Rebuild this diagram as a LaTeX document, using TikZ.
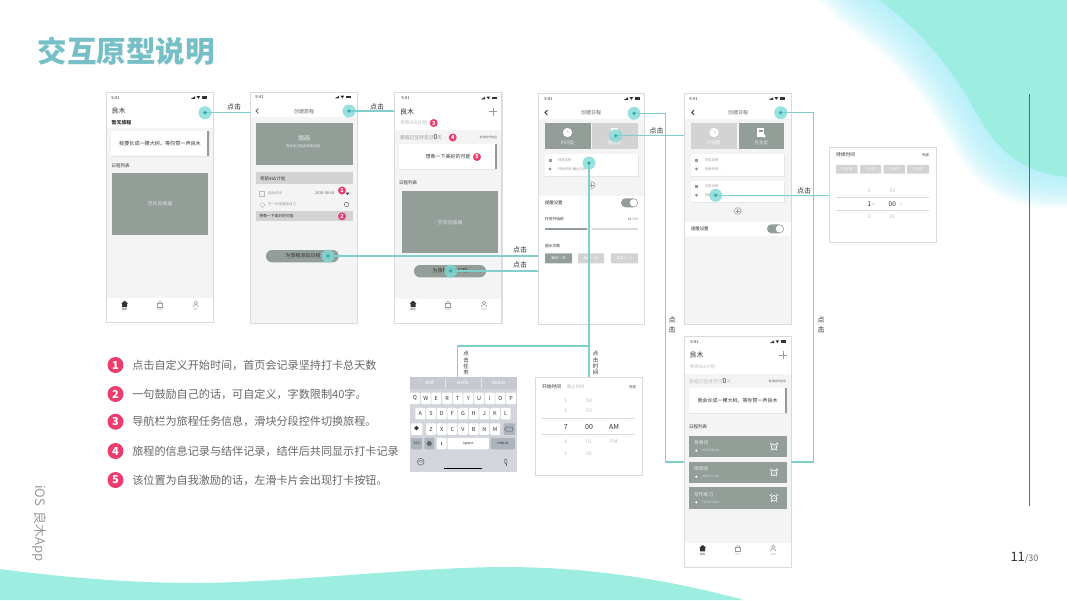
\documentclass[tikz,border=0pt]{standalone}
\usepackage{fontspec}
\setmainfont{Noto Sans CJK SC}
\definecolor{blob}{HTML}{9DEEE0}
\definecolor{glow}{HTML}{A8ECF8}
\definecolor{conn}{HTML}{7FD0CC}
\definecolor{hotc}{HTML}{7FDAD6}
\definecolor{hotd}{HTML}{35ABA8}
\definecolor{imgc}{HTML}{939E99}
\definecolor{lite}{HTML}{D3D3D3}
\definecolor{body}{HTML}{F4F4F4}
\definecolor{edgec}{HTML}{DADADA}
\definecolor{ink}{HTML}{333333}
\definecolor{mid}{HTML}{666666}
\definecolor{soft}{HTML}{999999}
\definecolor{pale}{HTML}{BBBBBB}
\definecolor{pinkc}{HTML}{EC3D6E}
\definecolor{titlec}{HTML}{77BFC6}
\definecolor{kbbg}{HTML}{D2D5DB}
\definecolor{kbsg}{HTML}{C6C9CF}
\definecolor{kbdk}{HTML}{ACB3BD}
\newcounter{lblc}
\tikzset{
  lab/.style={inner sep=0pt,outer sep=0pt},
  screenbox/.style={draw=edgec,line width=0.8pt,fill=white,inner sep=0pt,outer sep=0pt},
  hotspot/.style={circle,fill=hotc,fill opacity=.8,minimum size=13pt,inner sep=0pt,outer sep=0pt},
  link/.style={draw=conn,line width=1.2pt},
  key/.style={fill=white,rounded corners=1pt,minimum width=9.7pt,minimum height=11.5pt,inner sep=0pt,outer sep=0pt,text=ink,font=\fontsize{5.5}{5.5}\selectfont},
  keydk/.style={key,fill=kbdk},
  pill/.style={inner sep=0pt,outer sep=0pt,rounded corners=.7pt,text=white,font=\fontsize{3.6}{3.6}\selectfont},
  bdgnode/.style={circle,fill=pinkc,text=white,inner sep=0pt,outer sep=0pt,font=\bfseries\fontsize{5.5}{5.5}\selectfont,minimum size=8pt},
  listbdg/.style={bdgnode,minimum size=16pt,font=\bfseries\fontsize{11}{11}\selectfont},
}
\newcommand\lbl[6][center]{\stepcounter{lblc}\node[lab,anchor=#1,text=#5,font=\fontsize{#4}{#4}\selectfont] (t\thelblc) at (#2,#3) {#6};}
\newcommand\scr[5]{\fill[black!12] (#2+.8,#3+.8) rectangle (#4+.8,#5+.8);
  \node[screenbox,minimum width={(#4-#2)*1pt},minimum height={(#5-#3)*1pt}] (#1) at ({(#2+#4)/2},{(#3+#5)/2}) {};}
\newcommand\stbar[2]{\lbl[center]{#1-91.5}{#2}{4.2}{ink}{9:41}
  \fill[ink] (#1-5.5,#2-1.3) rectangle (#1,#2+1.3);
  \fill[ink] (#1-10.5,#2-1.3) -- (#1-6.8,#2-1.3) -- (#1-8.6,#2+1.4) -- cycle;
  \fill[ink] (#1-16,#2+1.3) -- (#1-11.8,#2+1.3) -- (#1-11.8,#2-1.3) -- cycle;}
\newcommand\tabs[4]{%
  \fill[ink] (#1-3.3,#4-.5) -- (#1,#4-3.4) -- (#1+3.3,#4-.5) -- (#1+2.5,#4-.5) -- (#1+2.5,#4+3) -- (#1-2.5,#4+3) -- (#1-2.5,#4-.5) -- cycle;
  \draw[soft,line width=.5pt] (#2-2.5,#4-.8) rectangle (#2+2.5,#4+3);
  \draw[soft,line width=.5pt] (#2-1.6,#4-.8) arc[start angle=180,end angle=360,x radius=1.6,y radius=2];
  \draw[soft,line width=.5pt] (#3,#4-1.3) circle (1.8);
  \draw[soft,line width=.5pt] (#3-2.8,#4+3) arc[start angle=180,end angle=360,x radius=2.8,y radius=2.6];
  \lbl{#1}{#4+6}{2.6}{ink}{首页}\lbl{#2}{#4+6}{2.6}{pale}{结伴}\lbl{#3}{#4+6}{2.6}{pale}{我的}}
\newcommand\bdg[4]{\node[bdgnode] (#1) at (#2,#3) {#4};}
\newcommand\back[3]{\draw[#3,line width=.8pt] (#1+1.4,#2-2.4) -- (#1-1,#2) -- (#1+1.4,#2+2.4);}
\newcommand\plusc[2]{\draw[soft,line width=.5pt,fill=body] (#1,#2) circle (3.4);\draw[soft,line width=.5pt] (#1-2,#2) -- (#1+2,#2) (#1,#2-2) -- (#1,#2+2);}
\newcommand\tog[2]{\fill[imgc,rounded corners=4.5pt] (#1,#2) rectangle (#1+17,#2+9);\fill[white] (#1+12.5,#2+4.5) circle (3.7);}
\newcommand\clockic[3]{\fill[#3] (#1,#2) circle (4.6);\draw[white!70!imgc,line width=.5pt] (#1,#2-2.8) -- (#1,#2) -- (#1+2,#2);}
\newcommand\card[4]{\fill[black!10] (#1,#2+.8) rectangle (#3+.5,#4+.8);\fill[white] (#1,#2) rectangle (#3,#4);}
\newcommand\strip[3]{\fill[soft] (#1-1.8,#2) rectangle (#1,#3);}
\newcommand\alarm[2]{\draw[white,line width=.7pt] (#1,#2) circle (2.8);\draw[white,line width=.8pt] (#1-4,#2-2.4) -- (#1-2.4,#2-4) (#1+4,#2-2.4) -- (#1+2.4,#2-4) (#1-3,#2+3.4) -- (#1-2,#2+2.4) (#1+3,#2+3.4) -- (#1+2,#2+2.4);\draw[white,line width=.4pt] (#1,#2-1.6) -- (#1,#2) -- (#1+1.2,#2+.6);}
\newcommand\task[5]{\fill[imgc] (689,#1) rectangle (786.7,#2);
  \lbl[west]{694}{#1+7}{4.8}{white!75!imgc}{#3}
  \fill[white] (696.3,#1+15) circle (1.2);
  \lbl[west]{702}{#1+15}{3.2}{white!70!imgc}{#4}
  \alarm{774}{#1+11}}
\begin{document}
\begin{tikzpicture}[x=1pt,y=-1pt]
\useasboundingbox (0,0) rectangle (1067,600);
\begin{scope}
\clip (0,0) rectangle (1067,600);
\foreach \i in {1,...,30}{
  \fill[glow,fill opacity=.05,shift={({-\i*.85},{\i*1.05})}] (820,-60) .. controls (845,-30) and (860,-12) .. (878,0) .. controls (915,25) and (945,60) .. (969,100) .. controls (985,128) and (1005,172) .. (1067,177) -- (1200,177) -- (1200,-100) -- (820,-100) -- cycle;
}
\fill[blob] (878,0) .. controls (915,25) and (945,60) .. (969,100) .. controls (985,128) and (1005,172) .. (1067,177) -- (1067,0) -- cycle;
\fill[blob] (0,569) .. controls (70,578) and (130,583) .. (200,583) .. controls (290,582) and (420,567) .. (505,567) .. controls (590,567) and (670,580) .. (744,600) -- (0,600) -- cycle;
\end{scope}
\draw[mid,line width=.9pt] (1029.5,94) -- (1029.5,506);
\node[lab,anchor=west,text=titlec,font=\bfseries\fontsize{29.5}{29.5}\selectfont] (title) at (37.5,51) {交互原型说明};
\node[lab,anchor=west,rotate=-90,text=soft,font=\fontsize{13}{13}\selectfont] (side) at (40,485) {iOS\ \ 良木App};
\node[lab,anchor=base west,text=ink,font=\fontsize{13}{13}\selectfont] (pagenum) at (1010.5,561) {11\textcolor{mid}{\fontsize{9}{9}\selectfont/30}};

% ---------- screen 1
\scr{s1}{106.7}{92.5}{213}{322}
\stbar{207}{97.5}
\lbl[west]{111.7}{111}{7}{ink}{良木}
\lbl[west]{111.7}{123}{4.9}{ink}{\bfseries 暂无旅程}
\fill[body] (107.2,128) rectangle (212.6,298);
\card{111}{131}{209}{155.7}\strip{209}{131}{155.7}
\lbl{160}{143.5}{5.1}{ink}{我要长成一棵大树。等你赞一声良木}
\lbl[west]{111.7}{165.3}{4.5}{ink}{日程列表}
\fill[imgc] (111.5,172.7) rectangle (208.3,235.3);
\lbl{160}{204}{5}{white!70!imgc}{空状态插画}
\tabs{124.7}{160}{195.7}{304}

% ---------- screen 2
\scr{s2}{250.7}{92.5}{357}{323}
\stbar{351}{97}
\fill[body] (251.2,117.3) rectangle (356.6,322.6);
\back{257}{111}{mid}
\lbl{304}{111.5}{5}{mid}{创建旅程}
\fill[imgc] (256,122.7) rectangle (352.7,165);
\lbl{304}{138.5}{6}{white!80!imgc}{插画}
\lbl{304}{146.5}{3.4}{white!80!imgc}{有伙伴才能走得更远哦\textasciitilde}
\fill[lite] (255.5,172.3) rectangle (352.5,184.3);
\lbl[west]{260}{178.5}{4.5}{ink}{考研365计划}
\draw[pale,line width=.5pt] (259.5,191) rectangle (264.5,196);
\lbl[west]{268}{193.5}{3.5}{soft}{起始时间}
\lbl[west]{315}{193.5}{3.8}{mid}{2018-08-04}
\fill[ink] (345.5,192.5) -- (349.5,192.5) -- (347.5,195) -- cycle;
\draw[pale,line width=.5pt] (260,203) -- (263,203) -- (265,205) -- (262.5,207.5) -- (260,205) -- cycle;
\lbl[west]{268}{204.5}{3.5}{soft}{写一句话鼓励自己}
\draw[mid,line width=.5pt] (346.5,204.5) circle (2.2);
\fill[lite] (255.5,211) rectangle (352.5,221);
\lbl[west]{259.5}{216.3}{3.8}{ink}{想像一下美好的可能}
\fill[imgc,rounded corners=6pt] (266,250) rectangle (338.7,262.3);
\lbl{303}{256}{5}{ink}{为旅程添加日程}
\bdg{b1}{342}{190.5}{1}
\bdg{b2}{342}{216.3}{2}

% ---------- screen 3
\scr{s3}{394.3}{92.3}{501.7}{323}
\stbar{497}{98}
\lbl[west]{400}{111.5}{7}{ink}{良木}
\draw[soft,line width=.7pt] (489,111.5) -- (497,111.5) (493,107.5) -- (493,115.5);
\lbl[west]{400}{123}{4.8}{pale}{考研365计划}
\fill[body] (394.8,130) rectangle (501.3,299);
\lbl[west]{400}{137.5}{4.8}{soft}{旅程已坚持走过\textcolor{ink}{\fontsize{7}{7}\selectfont 0}天}
\lbl[east]{497}{137.5}{2.9}{mid}{查找结伴信息}
\card{399.3}{144.3}{496.7}{169.3}\strip{496.7}{144.3}{169.3}
\lbl{448}{157}{5}{ink}{想象一下美好的可能}
\lbl[west]{399}{183}{4.5}{ink}{日程列表}
\fill[imgc] (401.7,191) rectangle (498.3,253.3);
\lbl{450}{222.5}{5}{white!70!imgc}{空状态插画}
\fill[imgc,rounded corners=6pt] (414,265) rectangle (486,277.3);
\lbl{450}{271}{5}{ink}{为旅程添加日程}
\tabs{413}{448}{484}{304}
\bdg{b3}{433.7}{123}{3}
\bdg{b4}{452.7}{137.5}{4}
\bdg{b5}{477}{157}{5}

% ---------- screen 4
\scr{s4}{538}{93.3}{644}{324}
\stbar{640}{98.5}
\fill[body] (538.5,119) rectangle (643.6,195.7);
\back{546}{112.5}{ink}
\lbl{591}{112.5}{5}{mid}{创建日程}
\fill[imgc] (545,123.3) rectangle (590.7,149);
\clockic{567.5}{132.5}{white}
\lbl{567.5}{142.5}{4.4}{white!75!imgc}{时间型}
\fill[lite] (592.3,123.3) rectangle (637.7,149);
\fill[white] (611,128) rectangle (618,137);
\lbl{614.5}{143}{4.4}{white}{任务型}
\card{545}{154}{638}{176}
\fill[soft] (548.5,158.5) rectangle (551.5,161.5);
\fill[soft] (550,169) circle (1.6);
\lbl[west]{558}{160}{3.4}{soft}{任务名称}
\lbl[west]{558}{169}{3.4}{soft}{开始时间-截止时间}
\plusc{591.7}{185}
\lbl[west]{545}{203}{4.4}{ink}{提醒设置}
\tog{621}{198.3}
\lbl[west]{545}{219}{3.8}{ink}{任务开始前}
\lbl[east]{638}{219}{3}{soft}{\textcolor{ink}{15} 分钟}
\fill[imgc] (545,228) rectangle (587,230);
\fill[edgec] (592,228) rectangle (638,230);
\fill[white,draw=edgec,line width=.3pt] (590,229) circle (2.6);
\lbl[west]{545}{246}{3.8}{ink}{提示次数}
\node[pill,fill=imgc,minimum width=27pt,minimum height=10pt] (p1) at (558.5,258.3) {每日一次};
\node[pill,fill=lite,minimum width=26pt,minimum height=10pt] (p2) at (591,258.3) {每周一次};
\node[pill,fill=lite,minimum width=27pt,minimum height=10pt] (p3) at (624.5,258.3) {自定义 \,∨};

% ---------- screen 5
\scr{s5}{684}{93.6}{791}{324}
\stbar{785}{98.5}
\fill[body] (684.5,119) rectangle (790.6,222);
\fill[body] (684.5,235.7) rectangle (790.6,323.6);
\back{692.7}{112.5}{ink}
\lbl{738}{112.5}{5}{mid}{创建日程}
\fill[lite] (691.3,123.3) rectangle (736.7,149);
\clockic{714}{132.5}{white}
\lbl{714}{142.5}{4.4}{white}{时间型}
\fill[imgc] (738.7,123.3) rectangle (784,149);
\fill[white] (757,128) rectangle (764,137);
\fill[imgc] (758.5,130) rectangle (762.5,131.5);
\fill[white] (764,136) circle (1.8);
\lbl{761.5}{142.5}{4.4}{white!75!imgc}{任务型}
\card{691.3}{154}{784}{176}
\fill[soft] (695,158.5) rectangle (698,161.5);
\fill[soft] (696.5,169) circle (1.6);
\lbl[west]{705}{160}{3.4}{soft}{任务名称}
\lbl[west]{705}{169}{3.4}{soft}{持续时间\ \ -}
\card{691.3}{180.7}{784}{202.3}
\fill[soft] (695,185) rectangle (698,188);
\fill[soft] (696.5,195.3) circle (1.6);
\lbl[west]{705}{186.5}{3.4}{soft}{任务名称}
\lbl[west]{705}{195.5}{3.4}{soft}{持续时间\ \ -}
\plusc{737.7}{211}
\lbl[west]{691}{229}{4.4}{ink}{提醒设置}
\tog{767}{224.3}

% ---------- duration popup
\scr{dur}{829}{147.3}{936}{242}
\lbl[west]{836}{154.3}{4.8}{ink}{持续时间}
\lbl[east]{929}{155}{3.4}{ink}{完成}
\node[pill,fill=lite,minimum width=21.5pt,minimum height=8.7pt] (d1) at (846.8,169.3) {30分钟};
\node[pill,fill=lite,minimum width=21pt,minimum height=8.7pt] (d2) at (870.5,169.3) {1小时};
\node[pill,fill=lite,minimum width=21.5pt,minimum height=8.7pt] (d3) at (894.3,169.3) {2小时};
\node[pill,fill=lite,minimum width=22pt,minimum height=8.7pt] (d4) at (918,169.3) {5小时};
\draw[edgec,line width=.6pt] (836,197.3) -- (929,197.3) (836,210.3) -- (929,210.3);
\lbl{869.3}{190.7}{5}{pale}{0}\lbl{892.3}{190.7}{5}{pale}{59}
\lbl{869.3}{203.7}{6.5}{ink}{1}\lbl{873.5}{204}{2.8}{pale}{时}
\lbl{892.3}{203.7}{6.5}{ink}{00}\lbl{901}{204}{2.8}{pale}{分}
\lbl{869.3}{216.7}{5}{pale}{2}\lbl{892.3}{216.7}{5}{pale}{01}

% ---------- keyboard
\node[lab,fill=kbbg,minimum width=106.7pt,minimum height=95pt] (kb) at (463.35,424.5) {};
\fill[kbsg] (410,377) rectangle (516.7,389);
\draw[white!60!kbsg,line width=.3pt] (445.5,378) -- (445.5,388) (481.5,378) -- (481.5,388);
\lbl{429}{382.5}{4.8}{white}{"Hell"}\lbl{463}{382.5}{4.8}{white}{Hello}\lbl{498.7}{382.5}{4.8}{white}{Helios}
\foreach \c/\x in {Q/45,W/77,E/109,R/141,T/173,Y/205,U/237,I/269,O/301,P/333}{\node[key] (k\c) at ({400+\x/3},398.3) {\c};}
\foreach \c/\x in {A/61,S/93,D/125,F/157,G/189,H/221,J/253,K/285,L/317}{\node[key] (k\c) at ({400+\x/3},413.6) {\c};}
\foreach \c/\x in {Z/93,X/125,C/157,V/189,B/221,N/253,M/285}{\node[key] (k\c) at ({400+\x/3},429) {\c};}
\node[key,minimum width=11.5pt] (kshift) at (416.7,429) {\fontsize{5}{5}\selectfont ◆};
\node[keydk,minimum width=11.5pt] (kdel) at (509.3,429) {};
\draw[mid,line width=.5pt] (506.3,427) -- (512.3,427) -- (512.3,431) -- (506.3,431) -- (504.6,429) -- cycle;
\node[keydk,minimum width=11pt,font=\fontsize{3.8}{3.8}\selectfont] (k123) at (416.7,443.5) {123};
\node[keydk,minimum width=10pt] (kglobe) at (429.3,443.5) {};
\fill[mid] (kglobe.center) circle (2.5);
\node[key,minimum width=10pt] (kmic) at (441.7,443.5) {};
\fill[mid] (441.1,441.5) rectangle (442.3,445);
\node[key,minimum width=41.3pt,font=\fontsize{3.8}{3.8}\selectfont] (kspace) at (468.3,443.5) {space};
\node[keydk,minimum width=24.3pt,font=\fontsize{3.8}{3.8}\selectfont] (kret) at (502.8,443.5) {return};
\draw[mid,line width=.5pt] (420.7,461.7) circle (3.4);
\draw[mid,line width=.5pt] (418.7,462.5) arc[start angle=180,end angle=360,radius=2];
\draw[mid,line width=.5pt,rounded corners=1pt] (504.5,459) rectangle (506.9,463.5);
\draw[mid,line width=.4pt] (505.7,463.5) -- (505.7,465.5);
\fill[black] (444.3,468) rectangle (482.3,469.3);

% ---------- time popup
\scr{tim}{535.7}{377}{642}{475}
\lbl[west]{542}{386.7}{4.8}{ink}{开始时间}
\lbl[west]{567}{386.7}{4.4}{pale}{截止时间}
\lbl[east]{636}{387}{3.4}{ink}{完成}
\draw[edgec,line width=.6pt] (542,418.3) -- (635,418.3) (542,434.3) -- (635,434.3);
\lbl{565.7}{401}{5}{pale}{5}\lbl{589}{401}{5}{pale}{58}
\lbl{565.7}{411}{5}{pale}{6}\lbl{589}{411}{5}{pale}{59}
\lbl{565.7}{426.7}{7}{ink}{7}\lbl{589}{426.7}{7}{ink}{00}\lbl{614}{426.7}{7}{ink}{AM}
\lbl{565.7}{442}{5}{pale}{8}\lbl{589}{442}{5}{pale}{01}\lbl{614}{442}{5}{pale}{PM}
\lbl{565.7}{454}{5}{pale}{9}\lbl{589}{454}{5}{pale}{02}

% ---------- screen 6
\scr{s6}{684}{336}{791}{567}
\stbar{786}{341.7}
\lbl[west]{689.7}{355}{7}{ink}{良木}
\draw[soft,line width=.7pt] (779,355) -- (787,355) (783,351) -- (783,359);
\lbl[west]{689.7}{367}{4.5}{pale}{考研365计划}
\fill[body] (684.5,374) rectangle (790.6,542.7);
\lbl[west]{689}{381}{4.8}{pale}{旅程已坚持走过\textcolor{ink}{\fontsize{7}{7}\selectfont 0}天}
\lbl[east]{786}{381}{2.9}{mid}{查找结伴信息}
\card{689}{388.3}{786.7}{412.7}\strip{786.7}{388.3}{412.7}
\lbl{737.5}{400.5}{5}{ink}{我会长成一棵大树。等你赞一声良木}
\lbl[west]{689}{426.7}{4.5}{ink}{日程列表}
\task{435.7}{456.7}{背单词}{07:00-08:00}{}
\task{461.7}{482.7}{微阅读}{09:00-11:00}{}
\task{487.3}{508.7}{写作练习}{13:00-16:00}{}
\tabs{702.7}{738}{773.3}{548.3}

% ---------- hotspots
\node[hotspot] (h1) at (205,112.7) {};
\node[hotspot] (h2) at (349,111) {};
\node[hotspot] (h3) at (328,256) {};
\node[hotspot] (h4) at (450.7,271) {};
\node[hotspot] (h5) at (634,113.3) {};
\node[hotspot] (h6) at (615.7,135.7) {};
\node[hotspot] (h7) at (589,163) {};
\node[hotspot] (h8) at (780.7,112.7) {};
\node[hotspot] (h9) at (715.7,195.3) {};

% ---------- connector bends
\coordinate (bus) at (457.7,346);
\coordinate (ll) at (665.7,462);
\coordinate (lt) at (665.7,113.3);
\coordinate (rl) at (813.3,462);
\coordinate (rt) at (813.3,112.7);

% ---------- connectors
\path[link] (h1.center) -- (h1.center -| s2.west);
\path[link] (h2.center) -- (h2.center -| s3.west);
\path[link] (h3.center) -- (h3.center -| s4.west);
\path[link] (h4.center) -- (h4.center -| s4.west);
\path[link] (h5.center) -- (lt) -- (ll) -- (ll -| s6.west);
\path[link] (h6.center) -- (h6.center -| s5.west);
\path[link] (h7.center) -- (h7.center |- tim.north);
\path[link] (h7.center |- bus) -- (bus) -- (bus |- kb.north);
\path[link] (h8.center) -- (rt) -- (rl) -- (rl -| s6.east);
\path[link] (h9.center) -- (h9.center -| dur.west);
\foreach \h in {h1,h2,h3,h4,h5,h6,h7,h8,h9}{\fill[hotd] (\h.center) circle (1.8);}

% ---------- connector labels
\lbl{234}{107}{7}{ink}{点击}
\lbl{377}{106.5}{7}{ink}{点击}
\lbl{520}{250}{7}{ink}{点击}
\lbl{520}{265}{7}{ink}{点击}
\lbl{656.5}{131}{7}{ink}{点击}
\lbl{804}{191}{7}{ink}{点击}
\lbl{672}{320}{7}{ink}{点}\lbl{672}{329.5}{7}{ink}{击}
\lbl{821}{320}{7}{ink}{点}\lbl{821}{329.5}{7}{ink}{击}
\lbl{466}{353.5}{5.5}{ink}{点}\lbl{466}{360}{5.5}{ink}{击}\lbl{466}{366.3}{5.5}{ink}{任}\lbl{466}{372.5}{5.5}{ink}{务}
\lbl{595.7}{353.5}{5.5}{ink}{点}\lbl{595.7}{360}{5.5}{ink}{击}\lbl{595.7}{366.3}{5.5}{ink}{时}\lbl{595.7}{372.5}{5.5}{ink}{间}

% ---------- numbered list
\node[listbdg] (n1) at (115.5,365) {1};
\node[listbdg] (n2) at (115.5,394) {2};
\node[listbdg] (n3) at (115.5,421.7) {3};
\node[listbdg] (n4) at (115.5,451) {4};
\node[listbdg] (n5) at (115.5,480) {5};
\lbl[west]{132.3}{365}{11.1}{mid}{点击自定义开始时间，首页会记录坚持打卡总天数}
\lbl[west]{132.3}{394}{11.1}{mid}{一句鼓励自己的话，可自定义，字数限制40字。}
\lbl[west]{132.3}{421.7}{11.1}{mid}{导航栏为旅程任务信息，滑块分段控件切换旅程。}
\lbl[west]{132.3}{451}{11.1}{mid}{旅程的信息记录与结伴记录，结伴后共同显示打卡记录}
\lbl[west]{132.3}{480}{11.1}{mid}{该位置为自我激励的话，左滑卡片会出现打卡按钮。}
\end{tikzpicture}
\end{document}
